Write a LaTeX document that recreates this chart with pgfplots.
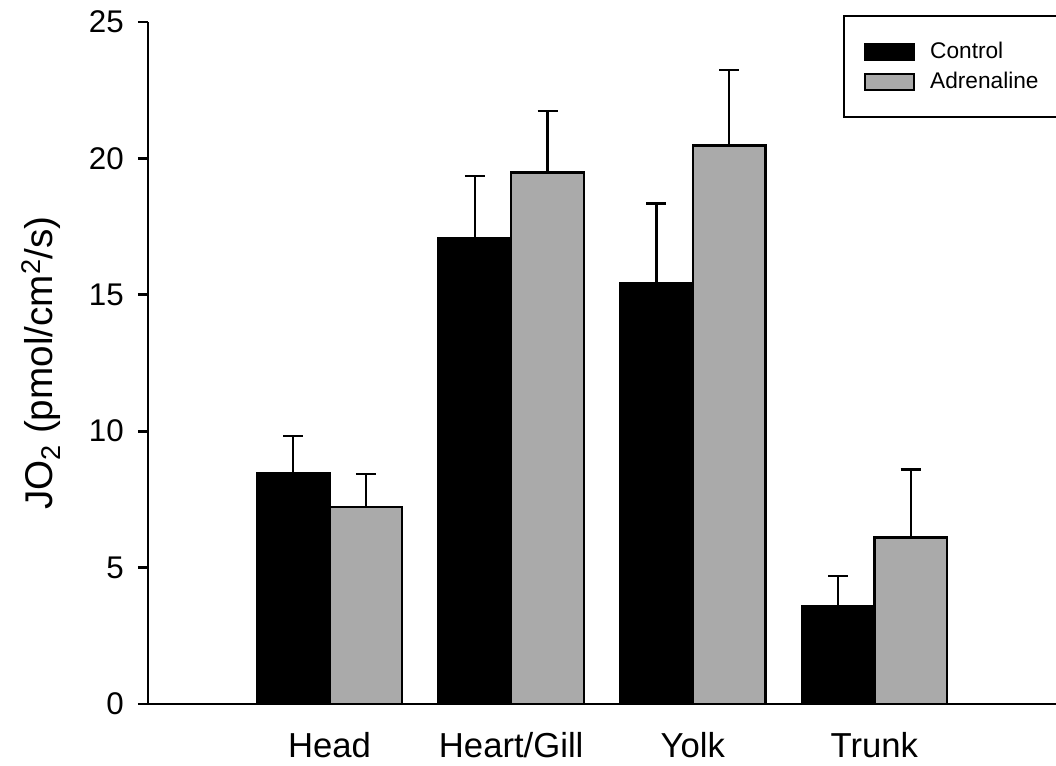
\documentclass[border=0pt]{standalone}
\usepackage{pgfplots}
\pgfplotsset{compat=1.18}
\usepackage{fontspec}
\setmainfont{Liberation Sans}
\definecolor{adrgray}{RGB}{170,170,170}

\begin{document}
\begin{tikzpicture}
\begin{axis}[
  at={(0pt,0pt)}, anchor=south west,
  scale only axis, width=681pt, height=511.5pt,
  ybar, bar width=0.4,
  xmin=0, xmax=5, ymin=0, ymax=25,
  axis x line=bottom, axis y line=left,
  axis line style={-, line width=2.1pt, black},
  xtick={1,2,3,4},
  xticklabels={Head,Heart/Gill,Yolk,Trunk},
  ytick={0,5,...,25},
  tick align=outside,
  major tick length=7.5pt,
  xtick style={draw=none},
  ytick style={line width=2pt, black},
  /pgf/number format/assume math mode=true,
  yticklabel style={font=\fontsize{23.5}{23.5}\selectfont, anchor=east, inner sep=0pt, xshift=-10.5pt},
  xticklabel style={font=\fontsize{26}{26}\selectfont, anchor=north, inner sep=0pt, yshift=-13.5pt},
  ylabel={JO\textsubscript{2} (pmol/cm\textsuperscript{2}/s)},
  ylabel style={font=\fontsize{29}{29}\selectfont,
    at={([xshift=-71.25pt]axis description cs:0,0.5)}, anchor=base},
  legend style={at={(axis description cs:0.7654,1.0103)}, anchor=north west,
    draw=black, line width=1.6pt, inner xsep=15pt, inner ysep=15.5pt,
    font=\fontsize{17}{17}\selectfont, row sep=0pt,
    nodes={inner sep=0pt, minimum height=22.5pt},
    /tikz/every odd column/.append style={column sep=11.25pt},
    /tikz/every even column/.append style={text width=110pt}},
  legend cell align=left,
  legend image code/.code={\draw[#1, line width=1.6pt] (0pt,-6pt) rectangle (36.75pt,6pt);},
  every axis plot/.append style={
    error bars/y dir=plus, error bars/y explicit,
    error bars/error bar style={line width=1.8pt, black},
    error bars/error mark options={rotate=90, mark size=7.5pt, line width=1.8pt, black}},
]
% Control group
\addplot[bar shift=-0.2, fill=black, draw=black, line width=1.8pt]
  coordinates {
    (1,8.46)  +- (0,1.37)
    (2,17.07) +- (0,2.28)
    (3,15.44) +- (0,2.91)
    (4,3.57)  +- (0,1.12)
  };
\addlegendentry{Control}
% Adrenaline group
\addplot[bar shift=0.2, fill=adrgray, draw=black, line width=1.8pt]
  coordinates {
    (1,7.23)  +- (0,1.20)
    (2,19.49) +- (0,2.25)
    (3,20.47) +- (0,2.77)
    (4,6.11)  +- (0,2.49)
  };
\addlegendentry{Adrenaline}
\end{axis}
\pgfresetboundingbox
\path (-111pt,-45.75pt) rectangle (681pt,528pt);
\end{tikzpicture}
\end{document}
